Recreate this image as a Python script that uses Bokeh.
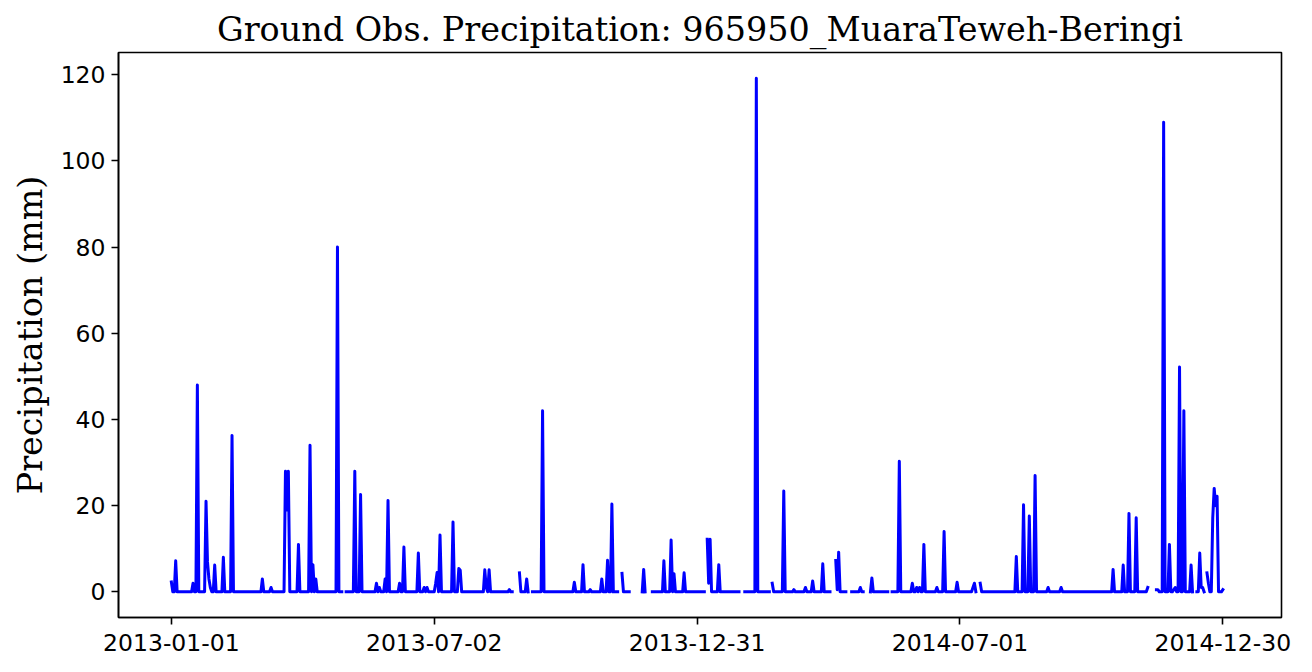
import numpy as np
import pandas as pd
from bokeh.plotting import figure
from bokeh.models import Range1d, FixedTicker, DatetimeTickFormatter, ColumnDataSource
from bokeh.embed import file_html
from bokeh.resources import INLINE

# ---- data (daily series from 2013-01-01; unlisted days read as 0 mm, last days missing) ----
start_date = "2013-01-01"
n_days = 733
rain_day = [0, 3, 15, 18, 24, 25, 26, 27, 30, 36, 42, 63, 69, 79, 80, 81, 88, 96, 98, 100,
            115, 127, 131, 142, 144, 148, 150, 158, 161, 171, 175, 177, 183, 184, 186, 195,
            199, 200, 217, 218, 220, 234, 241, 246, 257, 279, 285, 290, 298, 302, 305, 312,
            327, 341, 346, 348, 355, 371, 372, 373, 379, 405, 416, 424, 431, 439, 444, 451,
            460, 461, 462, 477, 485, 504, 513, 516, 518, 521, 530, 535, 544, 555, 556, 560,
            585, 590, 594, 598, 607, 616, 652, 659, 663, 668, 676, 682, 683, 687, 691, 694,
            695, 698, 701, 706, 712, 713, 714, 717, 718, 721, 722, 723, 724, 725, 728]
rain_mm = [2.3, 7.2, 2.0, 48.0, 21.0, 7.0, 3.0, 1.0, 6.2, 8.0, 36.3, 3.0, 1.0, 28.0, 19.0, 28.0, 11.0, 34.0, 6.3, 3.0,
           80.0, 28.0, 22.6, 2.0, 1.0, 3.0, 21.2, 2.0, 10.4, 9.0, 1.0, 1.0, 2.0, 4.5, 13.2, 16.2,
           5.4, 5.0, 5.1, 1.0, 5.1, 0.5, 4.4, 3.0, 42.0, 2.2, 6.3, 0.5, 3.0, 7.3, 20.4, 4.3,
           5.2, 7.2, 12.0, 4.2, 4.4, 12.2, 2.0, 12.2, 6.3, 119.2, 2.0, 23.4, 0.5, 1.0, 2.5, 6.5,
           7.3, 0.5, 9.2, 1.0, 3.2, 30.3, 2.0, 1.0, 1.0, 11.0, 1.0, 14.0, 2.2, 1.0, 2.0, 2.0,
           8.2, 20.2, 17.6, 27.0, 1.0, 1.0, 5.2, 6.2, 18.2, 17.2, 1.0, 0.5, 0.5, 109.0, 11.0, 0.5,
           1.0, 52.2, 42.0, 6.2, 9.0, 1.0, 1.0, 4.4, 2.0, 17.2, 24.0, 20.0, 22.2, 0.0, 0.5]
missing_day = [47, 51, 55, 59, 119, 120, 214, 237, 238, 239, 240, 248, 249, 307, 310, 311,
               318, 319, 320, 321, 322, 323, 324, 325, 329, 330, 331, 332, 364, 370,
               394, 395, 396, 415, 457, 458, 459, 468, 469, 470, 480, 481, 482, 483,
               497, 498, 558, 559, 677, 678, 679, 680, 681, 708, 709, 716,
               729, 730, 731, 732]
tick_dates = ["2013-01-01", "2013-07-02", "2013-12-31", "2014-07-01", "2014-12-30"]
title_text = "Ground Obs. Precipitation: 965950_MuaraTeweh-Beringi"
y_label = "Precipitation (mm)"

# ---- build the series ----
dates = pd.date_range(start_date, periods=n_days, freq="D")
values = np.zeros(n_days)
values[rain_day] = rain_mm
values[missing_day] = np.nan
src = ColumnDataSource(dict(x=dates, y=values))


def ms(t):
    return pd.Timestamp(t).value / 1e6


span = ms(dates[-1]) - ms(dates[0])
x0 = ms(dates[0]) - 0.05 * span
x1 = ms(dates[-1]) + 0.05 * span
vmax = np.nanmax(values)
vmin = np.nanmin(values)
yr = vmax - vmin

p = figure(width=1296, height=656, output_backend="svg", toolbar_location=None,
           x_axis_type="datetime",
           x_range=Range1d(x0, x1), y_range=Range1d(vmin - 0.05 * yr, vmax + 0.05 * yr),
           frame_width=1163, frame_height=565,
           min_border_left=118, min_border_right=15, min_border_top=52, min_border_bottom=39)

p.line("x", "y", source=src, line_color="#0000ff", line_width=3,
       line_join="round", line_cap="square")

p.title.text = title_text
p.title.text_font = "DejaVu Serif"
p.title.text_font_size = "33.4px"
p.title.text_font_style = "normal"
p.title.align = "center"
p.title.text_color = "black"
p.title.standoff = 8

p.xgrid.visible = False
p.ygrid.visible = False
p.outline_line_color = "black"
p.outline_line_width = 1.6
p.background_fill_color = "white"
p.border_fill_color = "white"

p.xaxis.ticker = FixedTicker(ticks=[ms(t) for t in tick_dates], minor_ticks=[])
fmt = "%Y-%m-%d"
p.xaxis.formatter = DatetimeTickFormatter(days=fmt, months=fmt, years=fmt, hours=fmt,
                                          minutes=fmt, seconds=fmt, milliseconds=fmt,
                                          microseconds=fmt, minsec=fmt, hourmin=fmt)
p.yaxis.ticker = FixedTicker(ticks=[0, 20, 40, 60, 80, 100, 120], minor_ticks=[])

for ax in (p.xaxis[0], p.yaxis[0]):
    ax.major_label_text_font = "DejaVu Sans"
    ax.major_label_text_font_size = "23.5px"
    ax.major_label_text_color = "black"
    ax.major_tick_out = 7
    ax.major_tick_in = 0
    ax.major_tick_line_width = 1.6
    ax.minor_tick_line_color = None
    ax.axis_line_width = 1.6
p.xaxis.major_label_standoff = 9
p.yaxis.major_label_standoff = 6

p.yaxis.axis_label = y_label
p.yaxis.axis_label_text_font = "DejaVu Serif"
p.yaxis.axis_label_text_font_size = "33.4px"
p.yaxis.axis_label_text_font_style = "normal"
p.yaxis.axis_label_text_color = "black"
p.yaxis.axis_label_standoff = 8

open("out.html", "w").write(file_html(p, INLINE))
